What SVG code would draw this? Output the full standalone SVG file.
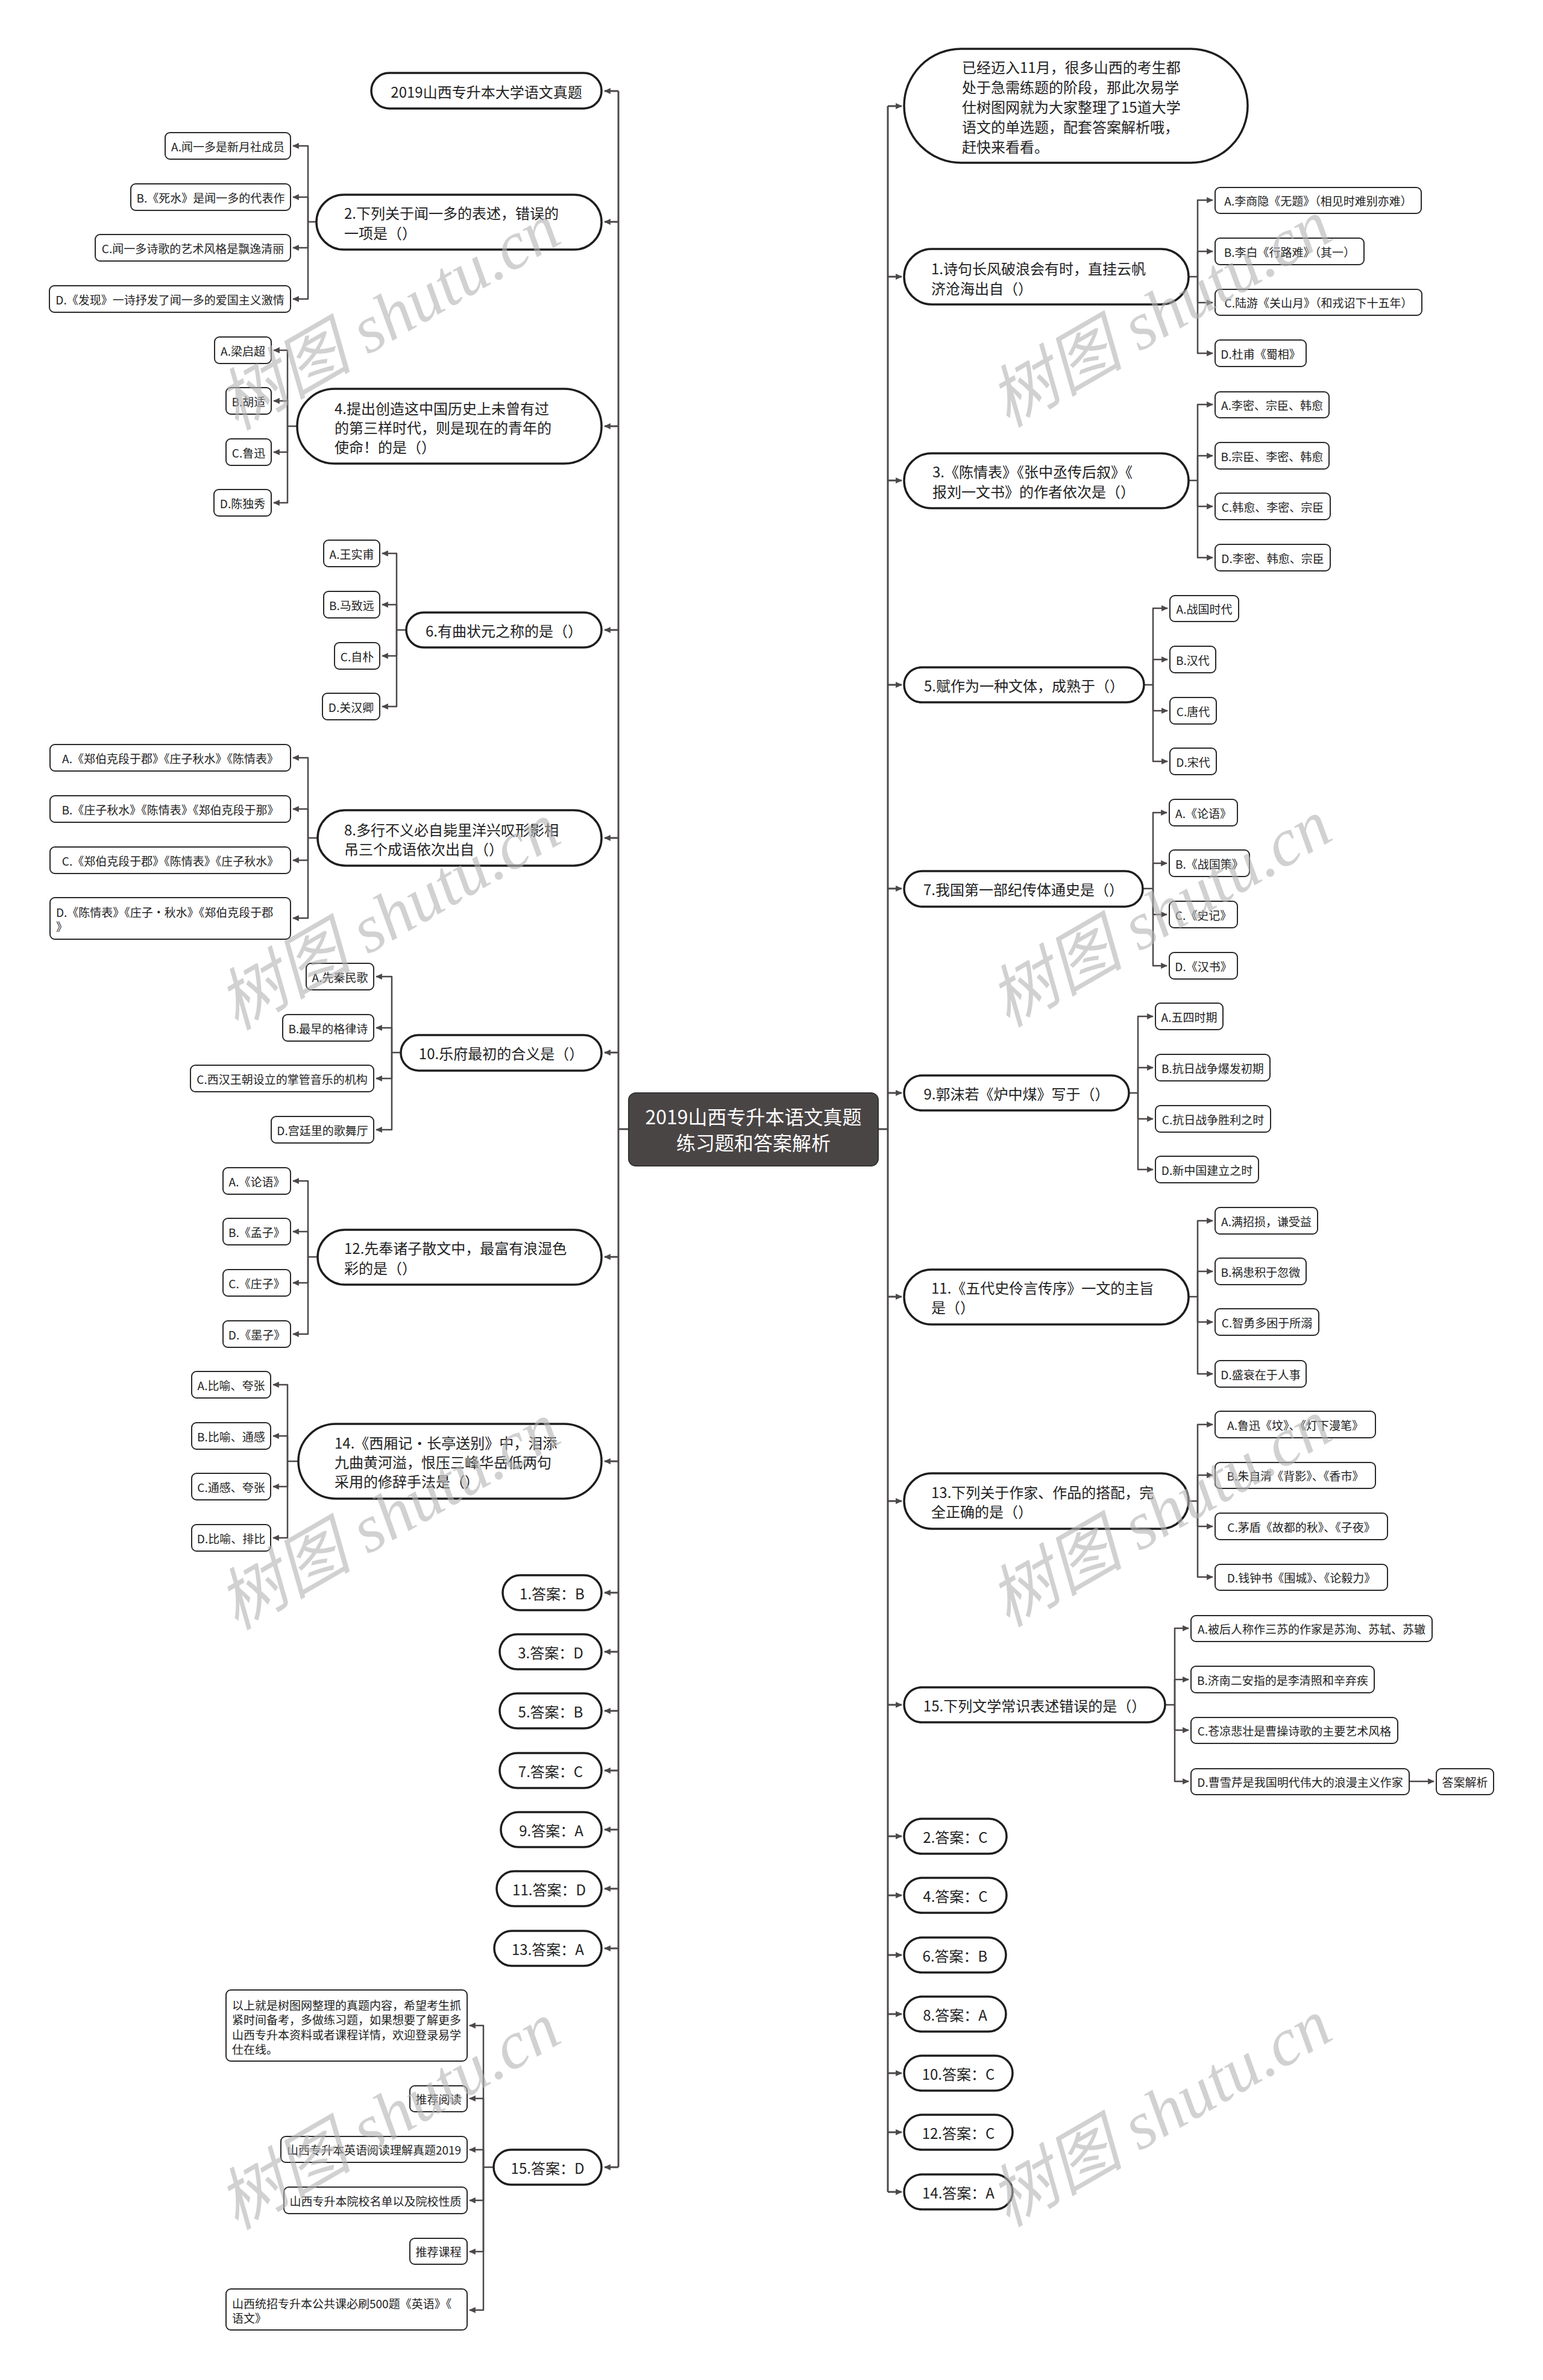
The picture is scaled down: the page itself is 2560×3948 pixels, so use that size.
<svg xmlns="http://www.w3.org/2000/svg" width="2560" height="3948" viewBox="0 0 2560 3948">
<style>
.n{fill:#fff;stroke:#1e1e1e;stroke-width:3.5}
.o{fill:#fff;stroke:#2a2a2a;stroke-width:2}
.c{fill:none;stroke:#4d4848;stroke-width:3;stroke-linejoin:round}
.cs{fill:none;stroke:#4d4848;stroke-width:2.5;stroke-linejoin:round}
.a{marker-end:url(#ar)}
text{font-family:"Noto Sans CJK SC","Noto Sans",sans-serif;fill:#222;dominant-baseline:central}
.m{font-size:24px}
.s{font-size:19px}
.mid{text-anchor:middle}
.root{fill:#4a4545;stroke:#333;stroke-width:2}
.rt{font-size:32px;fill:#fff;text-anchor:middle}
.wm{font-family:"Liberation Serif","Noto Sans CJK SC",serif;font-style:italic;font-size:112px;fill:#b4b4b4;opacity:.6;text-anchor:middle;dominant-baseline:central}
</style>
<defs>
<marker id="ar" viewBox="0 0 10 10" refX="9" refY="5" markerWidth="11" markerHeight="11" markerUnits="userSpaceOnUse" orient="auto"><path d="M0,0.5 L10,5 L0,9.5 z" fill="#4d4848"/></marker>
</defs>
<rect width="2560" height="3948" fill="#fff"/>
<g id="connectors">
<path class="c" d="M1026,151 V3595"/>
<path class="c" d="M1043,1873 H1026"/>
<path class="c" d="M1473,176 V3636"/>
<path class="c" d="M1457,1873 H1473"/>
<path class="c a" d="M1026,151 H1003"/>
<path class="c a" d="M1026,368 H1003"/>
<path class="c a" d="M1026,707 H1003"/>
<path class="c a" d="M1026,1045 H1003"/>
<path class="c a" d="M1026,1390 H1003"/>
<path class="c a" d="M1026,1746 H1003"/>
<path class="c a" d="M1026,2085 H1003"/>
<path class="c a" d="M1026,2424 H1003"/>
<path class="c a" d="M1026,2642 H1003"/>
<path class="c a" d="M1026,2740 H1003"/>
<path class="c a" d="M1026,2838 H1003"/>
<path class="c a" d="M1026,2937 H1003"/>
<path class="c a" d="M1026,3035 H1003"/>
<path class="c a" d="M1026,3133 H1003"/>
<path class="c a" d="M1026,3232 H1003"/>
<path class="c a" d="M1026,3595 H1003"/>
<path class="c a" d="M1473,176 H1496"/>
<path class="c a" d="M1473,459 H1496"/>
<path class="c a" d="M1473,797 H1496"/>
<path class="c a" d="M1473,1136 H1496"/>
<path class="c a" d="M1473,1474 H1496"/>
<path class="c a" d="M1473,1813 H1496"/>
<path class="c a" d="M1473,2151 H1496"/>
<path class="c a" d="M1473,2490 H1496"/>
<path class="c a" d="M1473,2828 H1496"/>
<path class="c a" d="M1473,3046 H1496"/>
<path class="c a" d="M1473,3144 H1496"/>
<path class="c a" d="M1473,3243 H1496"/>
<path class="c a" d="M1473,3341 H1496"/>
<path class="c a" d="M1473,3439 H1496"/>
<path class="c a" d="M1473,3537 H1496"/>
<path class="c a" d="M1473,3636 H1496"/>
<!-- L2 -->
<path class="cs" d="M525,368 H511"/>
<path class="cs a" d="M511,368 V242 H486"/>
<path class="cs a" d="M511,368 V327 H486"/>
<path class="cs a" d="M511,368 V411 H486"/>
<path class="cs a" d="M511,368 V496 H486"/>
<!-- L4 -->
<path class="cs" d="M493,707 H477"/>
<path class="cs a" d="M477,707 V581 H454"/>
<path class="cs a" d="M477,707 V665 H454"/>
<path class="cs a" d="M477,707 V750 H454"/>
<path class="cs a" d="M477,707 V834 H454"/>
<!-- L6 -->
<path class="cs" d="M674,1045 H658"/>
<path class="cs a" d="M658,1045 V918 H634"/>
<path class="cs a" d="M658,1045 V1003 H634"/>
<path class="cs a" d="M658,1045 V1088 H634"/>
<path class="cs a" d="M658,1045 V1172 H634"/>
<!-- L8 -->
<path class="cs" d="M527,1390 H511"/>
<path class="cs a" d="M511,1390 V1257 H486"/>
<path class="cs a" d="M511,1390 V1342 H486"/>
<path class="cs a" d="M511,1390 V1427 H486"/>
<path class="cs a" d="M511,1390 V1523 H486"/>
<!-- L10 -->
<path class="cs" d="M665,1746 H650"/>
<path class="cs a" d="M650,1746 V1620 H624"/>
<path class="cs a" d="M650,1746 V1705 H624"/>
<path class="cs a" d="M650,1746 V1789 H624"/>
<path class="cs a" d="M650,1746 V1874 H624"/>
<!-- L12 -->
<path class="cs" d="M527,2085 H511"/>
<path class="cs a" d="M511,2085 V1959 H486"/>
<path class="cs a" d="M511,2085 V2043 H486"/>
<path class="cs a" d="M511,2085 V2128 H486"/>
<path class="cs a" d="M511,2085 V2213 H486"/>
<!-- L14 -->
<path class="cs" d="M495,2424 H477"/>
<path class="cs a" d="M477,2424 V2297 H453"/>
<path class="cs a" d="M477,2424 V2382 H453"/>
<path class="cs a" d="M477,2424 V2466 H453"/>
<path class="cs a" d="M477,2424 V2551 H453"/>
<!-- A15 -->
<path class="cs" d="M819,3595 H802"/>
<path class="cs a" d="M802,3595 V3360 H779"/>
<path class="cs a" d="M802,3595 V3481 H779"/>
<path class="cs a" d="M802,3595 V3566 H779"/>
<path class="cs a" d="M802,3595 V3650 H779"/>
<path class="cs a" d="M802,3595 V3735 H779"/>
<path class="cs a" d="M802,3595 V3832 H779"/>
<!-- R1 -->
<path class="cs" d="M1972,459 H1987"/>
<path class="cs a" d="M1987,459 V332 H2012"/>
<path class="cs a" d="M1987,459 V417 H2012"/>
<path class="cs a" d="M1987,459 V502 H2012"/>
<path class="cs a" d="M1987,459 V586 H2012"/>
<!-- R3 -->
<path class="cs" d="M1972,797 H1987"/>
<path class="cs a" d="M1987,797 V671 H2012"/>
<path class="cs a" d="M1987,797 V756 H2012"/>
<path class="cs a" d="M1987,797 V840 H2012"/>
<path class="cs a" d="M1987,797 V925 H2012"/>
<!-- R5 -->
<path class="cs" d="M1898,1136 H1913"/>
<path class="cs a" d="M1913,1136 V1009 H1937"/>
<path class="cs a" d="M1913,1136 V1094 H1937"/>
<path class="cs a" d="M1913,1136 V1179 H1937"/>
<path class="cs a" d="M1913,1136 V1263 H1937"/>
<!-- R7 -->
<path class="cs" d="M1896,1474 H1913"/>
<path class="cs a" d="M1913,1474 V1348 H1936"/>
<path class="cs a" d="M1913,1474 V1432 H1936"/>
<path class="cs a" d="M1913,1474 V1517 H1936"/>
<path class="cs a" d="M1913,1474 V1602 H1936"/>
<!-- R9 -->
<path class="cs" d="M1873,1813 H1888"/>
<path class="cs a" d="M1888,1813 V1686 H1913"/>
<path class="cs a" d="M1888,1813 V1771 H1913"/>
<path class="cs a" d="M1888,1813 V1856 H1913"/>
<path class="cs a" d="M1888,1813 V1940 H1913"/>
<!-- R11 -->
<path class="cs" d="M1972,2151 H1987"/>
<path class="cs a" d="M1987,2151 V2025 H2012"/>
<path class="cs a" d="M1987,2151 V2109 H2012"/>
<path class="cs a" d="M1987,2151 V2193 H2012"/>
<path class="cs a" d="M1987,2151 V2279 H2012"/>
<!-- R13 -->
<path class="cs" d="M1972,2490 H1987"/>
<path class="cs a" d="M1987,2490 V2363 H2012"/>
<path class="cs a" d="M1987,2490 V2447 H2012"/>
<path class="cs a" d="M1987,2490 V2532 H2012"/>
<path class="cs a" d="M1987,2490 V2616 H2012"/>
<!-- R15 -->
<path class="cs" d="M1933,2828 H1949"/>
<path class="cs a" d="M1949,2828 V2701 H1972"/>
<path class="cs a" d="M1949,2828 V2786 H1972"/>
<path class="cs a" d="M1949,2828 V2870 H1972"/>
<path class="cs a" d="M1949,2828 V2955 H1972"/>
<path class="cs a" d="M2338,2955 H2379"/>
</g>

<g id="root"><rect class="root" x="1043" y="1813" width="414" height="121" rx="12"/><text class="rt"><tspan x="1250" y="1851">2019山西专升本语文真题</tspan><tspan x="1250" y="1894">练习题和答案解析</tspan></text></g>

<!-- left main nodes -->
<g id="L0"><rect class="n" x="616" y="121" width="382" height="59" rx="29.5"/><text class="m mid" x="807" y="151">2019山西专升本大学语文真题</text></g>
<g id="L2"><rect class="n" x="525" y="323" width="473" height="91" rx="45.5"/><text class="m"><tspan x="571" y="352">2.下列关于闻一多的表述，错误的</tspan><tspan x="571" y="385">一项是（）</tspan></text></g>
<g id="L2A"><rect class="o" x="274" y="220" width="208" height="44" rx="8"/><text class="s mid" x="378" y="242">A.闻一多是新月社成员</text></g>
<g id="L2B"><rect class="o" x="217" y="305" width="265" height="44" rx="8"/><text class="s mid" x="349.5" y="327">B.《死水》是闻一多的代表作</text></g>
<g id="L2C"><rect class="o" x="158" y="389" width="324" height="44" rx="8"/><text class="s mid" x="320" y="411">C.闻一多诗歌的艺术风格是飘逸清丽</text></g>
<g id="L2D"><rect class="o" x="82" y="474" width="400" height="44" rx="8"/><text class="s mid" x="282" y="496">D.《发现》一诗抒发了闻一多的爱国主义激情</text></g>

<g id="L4"><rect class="n" x="493" y="645" width="505" height="124" rx="62"/><text class="m"><tspan x="555" y="676">4.提出创造这中国历史上未曾有过</tspan><tspan x="555" y="708">的第三样时代，则是现在的青年的</tspan><tspan x="555" y="740">使命！的是（）</tspan></text></g>
<g id="L4A"><rect class="o" x="356" y="559" width="94" height="44" rx="8"/><text class="s mid" x="403" y="581">A.梁启超</text></g>
<g id="L4B"><rect class="o" x="375" y="643" width="75" height="44" rx="8"/><text class="s mid" x="412.5" y="665">B.胡适</text></g>
<g id="L4C"><rect class="o" x="375" y="728" width="75" height="44" rx="8"/><text class="s mid" x="412.5" y="750">C.鲁迅</text></g>
<g id="L4D"><rect class="o" x="355" y="812" width="95" height="44" rx="8"/><text class="s mid" x="402.5" y="834">D.陈独秀</text></g>

<g id="L6"><rect class="n" x="674" y="1016" width="324" height="58" rx="29"/><text class="m mid" x="836" y="1045">6.有曲状元之称的是（）</text></g>
<g id="L6A"><rect class="o" x="537" y="896" width="93" height="44" rx="8"/><text class="s mid" x="583.5" y="918">A.王实甫</text></g>
<g id="L6B"><rect class="o" x="537" y="981" width="93" height="44" rx="8"/><text class="s mid" x="583.5" y="1003">B.马致远</text></g>
<g id="L6C"><rect class="o" x="555" y="1066" width="75" height="44" rx="8"/><text class="s mid" x="592.5" y="1088">C.自朴</text></g>
<g id="L6D"><rect class="o" x="535" y="1150" width="95" height="44" rx="8"/><text class="s mid" x="582.5" y="1172">D.关汉卿</text></g>

<g id="L8"><rect class="n" x="527" y="1344" width="471" height="92" rx="46"/><text class="m"><tspan x="571" y="1375">8.多行不义必自毙里洋兴叹形影相</tspan><tspan x="571" y="1407">吊三个成语依次出自（）</tspan></text></g>
<g id="L8A"><rect class="o" x="83" y="1235" width="399" height="44" rx="8"/><text class="s mid" x="282.5" y="1257">A.《郑伯克段于郡》《庄子秋水》《陈情表》</text></g>
<g id="L8B"><rect class="o" x="83" y="1320" width="399" height="44" rx="8"/><text class="s mid" x="282.5" y="1342">B.《庄子秋水》《陈情表》《郑伯克段于那》</text></g>
<g id="L8C"><rect class="o" x="83" y="1405" width="399" height="44" rx="8"/><text class="s mid" x="282.5" y="1427">C.《郑伯克段于郡》《陈情表》《庄子秋水》</text></g>
<g id="L8D"><rect class="o" x="83" y="1489" width="399" height="69" rx="8"/><text class="s"><tspan x="93" y="1512">D.《陈情表》《庄子·秋水》《郑伯克段于郡</tspan><tspan x="93" y="1536">》</tspan></text></g>

<g id="L10"><rect class="n" x="665" y="1717" width="333" height="59" rx="29.5"/><text class="m mid" x="831.5" y="1746.5">10.乐府最初的合义是（）</text></g>
<g id="L10A"><rect class="o" x="508" y="1598" width="112" height="44" rx="8"/><text class="s mid" x="564" y="1620">A.先秦民歌</text></g>
<g id="L10B"><rect class="o" x="469" y="1683" width="151" height="44" rx="8"/><text class="s mid" x="544.5" y="1705">B.最早的格律诗</text></g>
<g id="L10C"><rect class="o" x="316" y="1767" width="304" height="44" rx="8"/><text class="s mid" x="468" y="1789">C.西汉王朝设立的掌管音乐的机构</text></g>
<g id="L10D"><rect class="o" x="450" y="1852" width="170" height="44" rx="8"/><text class="s mid" x="535" y="1874">D.宫廷里的歌舞厅</text></g>

<g id="L12"><rect class="n" x="527" y="2040" width="471" height="91" rx="45.5"/><text class="m"><tspan x="571" y="2069">12.先奉诸子散文中，最富有浪湿色</tspan><tspan x="571" y="2102">彩的是（）</tspan></text></g>
<g id="L12A"><rect class="o" x="370" y="1937" width="112" height="44" rx="8"/><text class="s mid" x="426" y="1959">A.《论语》</text></g>
<g id="L12B"><rect class="o" x="370" y="2021" width="112" height="44" rx="8"/><text class="s mid" x="426" y="2043">B.《孟子》</text></g>
<g id="L12C"><rect class="o" x="370" y="2106" width="112" height="44" rx="8"/><text class="s mid" x="426" y="2128">C.《庄子》</text></g>
<g id="L12D"><rect class="o" x="370" y="2191" width="112" height="44" rx="8"/><text class="s mid" x="426" y="2213">D.《墨子》</text></g>

<g id="L14"><rect class="n" x="495" y="2362" width="503" height="124" rx="62"/><text class="m"><tspan x="555" y="2392">14.《西厢记·长亭送别》中，泪添</tspan><tspan x="555" y="2424">九曲黄河溢，恨压三峰华岳低两句</tspan><tspan x="555" y="2456">采用的修辞手法是（）</tspan></text></g>
<g id="L14A"><rect class="o" x="318" y="2275" width="131" height="44" rx="8"/><text class="s mid" x="383.5" y="2297">A.比喻、夸张</text></g>
<g id="L14B"><rect class="o" x="318" y="2360" width="131" height="44" rx="8"/><text class="s mid" x="383.5" y="2382">B.比喻、通感</text></g>
<g id="L14C"><rect class="o" x="318" y="2444" width="131" height="44" rx="8"/><text class="s mid" x="383.5" y="2466">C.通感、夸张</text></g>
<g id="L14D"><rect class="o" x="318" y="2529" width="131" height="44" rx="8"/><text class="s mid" x="383.5" y="2551">D.比喻、排比</text></g>

<g id="ans1"><rect class="n" x="834" y="2613" width="164" height="58" rx="29"/><text class="m mid" x="916" y="2642">1.答案：B</text></g>
<g id="ans3"><rect class="n" x="829" y="2711" width="169" height="58" rx="29"/><text class="m mid" x="913.5" y="2740">3.答案：D</text></g>
<g id="ans5"><rect class="n" x="829" y="2809" width="169" height="58" rx="29"/><text class="m mid" x="913.5" y="2838">5.答案：B</text></g>
<g id="ans7"><rect class="n" x="829" y="2908" width="169" height="58" rx="29"/><text class="m mid" x="913.5" y="2937">7.答案：C</text></g>
<g id="ans9"><rect class="n" x="831" y="3006" width="167" height="58" rx="29"/><text class="m mid" x="914.5" y="3035">9.答案：A</text></g>
<g id="ans11"><rect class="n" x="824" y="3104" width="174" height="58" rx="29"/><text class="m mid" x="911" y="3133">11.答案：D</text></g>
<g id="ans13"><rect class="n" x="820" y="3203" width="178" height="58" rx="29"/><text class="m mid" x="909" y="3232">13.答案：A</text></g>
<g id="ans15"><rect class="n" x="819" y="3566" width="179" height="58" rx="29"/><text class="m mid" x="908.5" y="3595">15.答案：D</text></g>

<g id="A15a"><rect class="o" x="375" y="3301" width="400" height="118" rx="8"/><text class="s"><tspan x="385" y="3325">以上就是树图网整理的真题内容，希望考生抓</tspan><tspan x="385" y="3349">紧时间备考，多做练习题，如果想要了解更多</tspan><tspan x="385" y="3374">山西专升本资料或者课程详情，欢迎登录易学</tspan><tspan x="385" y="3398">仕在线。</tspan></text></g>
<g id="A15b"><rect class="o" x="680" y="3460" width="95" height="43" rx="8"/><text class="s mid" x="727.5" y="3481.5">推荐阅读</text></g>
<g id="A15c"><rect class="o" x="466" y="3544" width="309" height="43" rx="8"/><text class="s mid" x="620.5" y="3565.5">山西专升本英语阅读理解真题2019</text></g>
<g id="A15d"><rect class="o" x="471" y="3628" width="304" height="44" rx="8"/><text class="s mid" x="623" y="3650">山西专升本院校名单以及院校性质</text></g>
<g id="A15e"><rect class="o" x="680" y="3713" width="95" height="43" rx="8"/><text class="s mid" x="727.5" y="3734.5">推荐课程</text></g>
<g id="A15f"><rect class="o" x="375" y="3797" width="400" height="68" rx="8"/><text class="s"><tspan x="385" y="3820">山西统招专升本公共课必刷500题《英语》《</tspan><tspan x="385" y="3844">语文》</tspan></text></g>

<!-- right main nodes -->
<g id="R0"><rect class="n" x="1500" y="81" width="570" height="189" rx="94.5"/><text class="m"><tspan x="1596" y="110">已经迈入11月，很多山西的考生都</tspan><tspan x="1596" y="143">处于急需练题的阶段，那此次易学</tspan><tspan x="1596" y="176">仕树图网就为大家整理了15道大学</tspan><tspan x="1596" y="209">语文的单选题，配套答案解析哦，</tspan><tspan x="1596" y="242">赶快来看看。</tspan></text></g>

<g id="R1"><rect class="n" x="1500" y="413" width="472" height="92" rx="46"/><text class="m"><tspan x="1545" y="444">1.诗句长风破浪会有时，直挂云帆</tspan><tspan x="1545" y="477">济沧海出自（）</tspan></text></g>
<g id="R1A"><rect class="o" x="2016" y="311" width="342" height="43" rx="8"/><text class="s mid" x="2187" y="332.5">A.李商隐《无题》（相见时难别亦难）</text></g>
<g id="R1B"><rect class="o" x="2016" y="395" width="247" height="44" rx="8"/><text class="s mid" x="2139.5" y="417">B.李白《行路难》（其一）</text></g>
<g id="R1C"><rect class="o" x="2016" y="480" width="343" height="43" rx="8"/><text class="s mid" x="2187.5" y="501.5">C.陆游《关山月》（和戎诏下十五年）</text></g>
<g id="R1D"><rect class="o" x="2016" y="564" width="151" height="44" rx="8"/><text class="s mid" x="2091.5" y="586">D.杜甫《蜀相》</text></g>

<g id="R3"><rect class="n" x="1500" y="752" width="472" height="91" rx="45.5"/><text class="m"><tspan x="1547" y="781">3.《陈情表》《张中丞传后叙》《</tspan><tspan x="1547" y="814">报刘一文书》的作者依次是（）</tspan></text></g>
<g id="R3A"><rect class="o" x="2016" y="650" width="189" height="43" rx="8"/><text class="s mid" x="2110.5" y="671.5">A.李密、宗臣、韩愈</text></g>
<g id="R3B"><rect class="o" x="2016" y="734" width="189" height="44" rx="8"/><text class="s mid" x="2110.5" y="756">B.宗臣、李密、韩愈</text></g>
<g id="R3C"><rect class="o" x="2016" y="818" width="191" height="44" rx="8"/><text class="s mid" x="2111.5" y="840">C.韩愈、李密、宗臣</text></g>
<g id="R3D"><rect class="o" x="2016" y="903" width="191" height="44" rx="8"/><text class="s mid" x="2111.5" y="925">D.李密、韩愈、宗臣</text></g>

<g id="R5"><rect class="n" x="1500" y="1107" width="398" height="58" rx="29"/><text class="m mid" x="1699" y="1136">5.赋作为一种文体，成熟于（）</text></g>
<g id="R5A"><rect class="o" x="1941" y="988" width="114" height="43" rx="8"/><text class="s mid" x="1998" y="1009.5">A.战国时代</text></g>
<g id="R5B"><rect class="o" x="1941" y="1072" width="76" height="44" rx="8"/><text class="s mid" x="1979" y="1094">B.汉代</text></g>
<g id="R5C"><rect class="o" x="1941" y="1157" width="77" height="44" rx="8"/><text class="s mid" x="1979.5" y="1179">C.唐代</text></g>
<g id="R5D"><rect class="o" x="1941" y="1241" width="77" height="44" rx="8"/><text class="s mid" x="1979.5" y="1263">D.宋代</text></g>

<g id="R7"><rect class="n" x="1500" y="1445" width="396" height="59" rx="29.5"/><text class="m mid" x="1698" y="1474.5">7.我国第一部纪传体通史是（）</text></g>
<g id="R7A"><rect class="o" x="1940" y="1326" width="113" height="44" rx="8"/><text class="s mid" x="1996.5" y="1348">A.《论语》</text></g>
<g id="R7B"><rect class="o" x="1940" y="1410" width="133" height="44" rx="8"/><text class="s mid" x="2006.5" y="1432">B.《战国策》</text></g>
<g id="R7C"><rect class="o" x="1940" y="1495" width="113" height="44" rx="8"/><text class="s mid" x="1996.5" y="1517">C.《史记》</text></g>
<g id="R7D"><rect class="o" x="1940" y="1580" width="113" height="44" rx="8"/><text class="s mid" x="1996.5" y="1602">D.《汉书》</text></g>

<g id="R9"><rect class="n" x="1500" y="1784" width="373" height="58" rx="29"/><text class="m mid" x="1686.5" y="1813">9.郭沫若《炉中煤》写于（）</text></g>
<g id="R9A"><rect class="o" x="1917" y="1664" width="112" height="44" rx="8"/><text class="s mid" x="1973" y="1686">A.五四时期</text></g>
<g id="R9B"><rect class="o" x="1917" y="1749" width="190" height="44" rx="8"/><text class="s mid" x="2012" y="1771">B.抗日战争爆发初期</text></g>
<g id="R9C"><rect class="o" x="1917" y="1834" width="191" height="44" rx="8"/><text class="s mid" x="2012.5" y="1856">C.抗日战争胜利之时</text></g>
<g id="R9D"><rect class="o" x="1917" y="1918" width="171" height="44" rx="8"/><text class="s mid" x="2002.5" y="1940">D.新中国建立之时</text></g>

<g id="R11"><rect class="n" x="1500" y="2106" width="472" height="91" rx="45.5"/><text class="m"><tspan x="1545" y="2135">11.《五代史伶言传序》一文的主旨</tspan><tspan x="1545" y="2167">是（）</tspan></text></g>
<g id="R11A"><rect class="o" x="2016" y="2003" width="170" height="44" rx="8"/><text class="s mid" x="2101" y="2025">A.满招损，谦受益</text></g>
<g id="R11B"><rect class="o" x="2016" y="2087" width="151" height="44" rx="8"/><text class="s mid" x="2091.5" y="2109">B.祸患积于忽微</text></g>
<g id="R11C"><rect class="o" x="2016" y="2171" width="172" height="44" rx="8"/><text class="s mid" x="2102" y="2193">C.智勇多困于所溺</text></g>
<g id="R11D"><rect class="o" x="2016" y="2257" width="151" height="44" rx="8"/><text class="s mid" x="2091.5" y="2279">D.盛衰在于人事</text></g>

<g id="R13"><rect class="n" x="1500" y="2444" width="472" height="92" rx="46"/><text class="m"><tspan x="1545" y="2474">13.下列关于作家、作品的搭配，完</tspan><tspan x="1545" y="2506">全正确的是（）</tspan></text></g>
<g id="R13A"><rect class="o" x="2016" y="2341" width="266" height="44" rx="8"/><text class="s mid" x="2149" y="2363">A.鲁迅《坟》、《灯下漫笔》</text></g>
<g id="R13B"><rect class="o" x="2016" y="2426" width="266" height="43" rx="8"/><text class="s mid" x="2149" y="2447.5">B.朱自清《背影》、《香市》</text></g>
<g id="R13C"><rect class="o" x="2016" y="2510" width="286" height="44" rx="8"/><text class="s mid" x="2159" y="2532">C.茅盾《故都的秋》、《子夜》</text></g>
<g id="R13D"><rect class="o" x="2016" y="2595" width="286" height="43" rx="8"/><text class="s mid" x="2159" y="2616.5">D.钱钟书《围城》、《论毅力》</text></g>

<g id="R15"><rect class="n" x="1500" y="2799" width="433" height="58" rx="29"/><text class="m mid" x="1716.5" y="2828">15.下列文学常识表述错误的是（）</text></g>
<g id="R15A"><rect class="o" x="1976" y="2680" width="400" height="43" rx="8"/><text class="s mid" x="2176" y="2701.5">A.被后人称作三苏的作家是苏洵、苏轼、苏辙</text></g>
<g id="R15B"><rect class="o" x="1976" y="2764" width="304" height="44" rx="8"/><text class="s mid" x="2128" y="2786">B.济南二安指的是李清照和辛弃疾</text></g>
<g id="R15C"><rect class="o" x="1976" y="2849" width="343" height="43" rx="8"/><text class="s mid" x="2147.5" y="2870.5">C.苍凉悲壮是曹操诗歌的主要艺术风格</text></g>
<g id="R15D"><rect class="o" x="1976" y="2934" width="362" height="43" rx="8"/><text class="s mid" x="2157" y="2955.5">D.曹雪芹是我国明代伟大的浪漫主义作家</text></g>
<g id="R15D1"><rect class="o" x="2383" y="2934" width="95" height="43" rx="8"/><text class="s mid" x="2430.5" y="2955.5">答案解析</text></g>

<g id="ans2"><rect class="n" x="1500" y="3017" width="170" height="58" rx="29"/><text class="m mid" x="1585" y="3046">2.答案：C</text></g>
<g id="ans4"><rect class="n" x="1500" y="3115" width="170" height="58" rx="29"/><text class="m mid" x="1585" y="3144">4.答案：C</text></g>
<g id="ans6"><rect class="n" x="1500" y="3214" width="169" height="58" rx="29"/><text class="m mid" x="1584.5" y="3243">6.答案：B</text></g>
<g id="ans8"><rect class="n" x="1500" y="3312" width="169" height="58" rx="29"/><text class="m mid" x="1584.5" y="3341">8.答案：A</text></g>
<g id="ans10"><rect class="n" x="1500" y="3410" width="180" height="58" rx="29"/><text class="m mid" x="1590" y="3439">10.答案：C</text></g>
<g id="ans12"><rect class="n" x="1500" y="3508" width="180" height="58" rx="29"/><text class="m mid" x="1590" y="3537">12.答案：C</text></g>
<g id="ans14"><rect class="n" x="1500" y="3607" width="180" height="58" rx="29"/><text class="m mid" x="1590" y="3636">14.答案：A</text></g>

<g id="watermarks">
<text class="wm" x="645" y="525" transform="rotate(-30 645 525)">树图 shutu.cn</text>
<text class="wm" x="1925" y="520" transform="rotate(-30 1925 520)">树图 shutu.cn</text>
<text class="wm" x="645" y="1520" transform="rotate(-30 645 1520)">树图 shutu.cn</text>
<text class="wm" x="1925" y="1515" transform="rotate(-30 1925 1515)">树图 shutu.cn</text>
<text class="wm" x="645" y="2515" transform="rotate(-30 645 2515)">树图 shutu.cn</text>
<text class="wm" x="1925" y="2510" transform="rotate(-30 1925 2510)">树图 shutu.cn</text>
<text class="wm" x="645" y="3510" transform="rotate(-30 645 3510)">树图 shutu.cn</text>
<text class="wm" x="1925" y="3505" transform="rotate(-30 1925 3505)">树图 shutu.cn</text>
</g>
</svg>
